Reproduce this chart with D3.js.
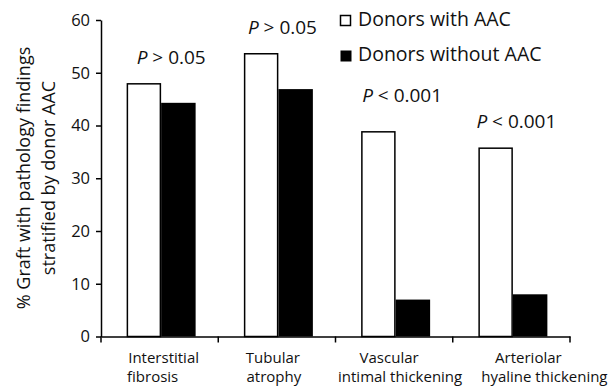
<!DOCTYPE html>
<html><head><meta charset="utf-8">
<script src="https://cdn.jsdelivr.net/npm/d3@7"></script>
<style>
html,body{margin:0;padding:0;background:#fff;}
svg{display:block;font-family:"Open Sans",sans-serif;}
</style></head>
<body><svg id="c" width="612" height="386"></svg>
<script>
const categories = ["Interstitial fibrosis","Tubular atrophy","Vascular intimal thickening","Arteriolar hyaline thickening"];
const categoryLines = [["Interstitial","fibrosis"],["Tubular","atrophy"],["Vascular","intimal thickening"],["Arteriolar","hyaline thickening"]];
const seriesNames = ["Donors with AAC","Donors without AAC"];
const withAAC = [47.9, 53.6, 38.8, 35.7];
const withoutAAC = [44.3, 46.9, 7.0, 8.0];
const pLabels = ["> 0.05","> 0.05","< 0.001","< 0.001"];
const yTicks = [0,10,20,30,40,50,60];

const svg = d3.select("#c");
const x0 = 101, x1 = 570, yTop = 20, yBot = 336.5;
const x = d3.scaleBand().domain(categories).range([x0, x1]).padding(0);
const y = d3.scaleLinear().domain([0,60]).range([yBot, yTop]);
const groupW = 69;
const xs = d3.scaleBand().domain(seriesNames).range([0, groupW]).padding(0);
const gOff = (x.bandwidth() - groupW)/2 + 1.5;

// bars
const fills = ["#fff","#000"];
const series = [withAAC, withoutAAC];
series.forEach((vals, si) => {
  svg.append("g").selectAll("rect").data(vals).join("rect")
    .attr("x", (d,i) => x(categories[i]) + gOff + xs(seriesNames[si]) + (si===0?0.75:0))
    .attr("y", d => y(d))
    .attr("width", xs.bandwidth() - (si===0?1.5:0))
    .attr("height", d => yBot - y(d))
    .attr("fill", fills[si])
    .attr("stroke", si===0 ? "#000" : "none")
    .attr("stroke-width", 1.5);
});

// y axis
const ya = svg.append("g").attr("transform", `translate(${x0},0)`)
  .call(d3.axisLeft(y).tickValues(yTicks).tickSize(5).tickSizeOuter(0).tickPadding(6));
ya.select(".domain").attr("stroke","#000").attr("stroke-width",1.5);
ya.selectAll(".tick line").attr("stroke","#000").attr("stroke-width",1.5);
ya.selectAll("text").attr("font-size",16.5).attr("fill","#111").attr("font-family","Open Sans");

// x axis
const xa = svg.append("g").attr("transform", `translate(0,${yBot})`)
  .call(d3.axisBottom(x).tickSize(0).tickFormat(""));
xa.select(".domain").attr("stroke","#000").attr("stroke-width",1.5);
const bounds = categories.map(c => x(c)).concat([x1]);
svg.append("g").selectAll("line").data(bounds).join("line")
  .attr("x1", d=>d).attr("x2", d=>d).attr("y1", yBot).attr("y2", yBot+6)
  .attr("stroke","#000").attr("stroke-width",1.5);

// category labels
const lineOff = [[4,-7],[-4,-3],[-5,6],[17,33]];
categories.forEach((c,i) => {
  const cx = x(c) + x.bandwidth()/2;
  categoryLines[i].forEach((t,j) => {
    svg.append("text").attr("x", cx + lineOff[i][j])
      .attr("y", 363 + j*19).attr("text-anchor","middle")
      .attr("font-size",15).attr("fill","#111").text(t);
  });
});

// p labels
const pOffX = [10,4,1,-2];
const pOffY = [20,20,30,20];
categories.forEach((c,i) => {
  const t = svg.append("text")
    .attr("x", x(c) + gOff + pOffX[i])
    .attr("y", y(Math.max(withAAC[i], withoutAAC[i])) - pOffY[i])
    .attr("font-size",19).attr("fill","#111");
  t.append("tspan").attr("font-style","italic").text("P");
  t.append("tspan").text(" " + pLabels[i]);
});

// legend
seriesNames.forEach((s,i) => {
  const ly = 20 + i*35;
  svg.append("rect").attr("x", 340.5).attr("y", ly - 4.5)
    .attr("width", i===0?10:11).attr("height", i===0?10:11)
    .attr("fill", fills[i]).attr("stroke","#000").attr("stroke-width", i===0?1.5:0);
  svg.append("text").attr("x", 358).attr("y", ly + 6)
    .attr("font-size",19.5).attr("fill","#111").text(s);
});

// y label
const yl = svg.append("text").attr("transform","translate(30,178) rotate(-90)")
  .attr("text-anchor","middle").attr("font-size",18).attr("fill","#111");
yl.append("tspan").attr("x",0).attr("y",0).text("% Graft with pathology findings");
yl.append("tspan").attr("x",0).attr("y",25).text("stratified by donor AAC");
</script></body></html>
